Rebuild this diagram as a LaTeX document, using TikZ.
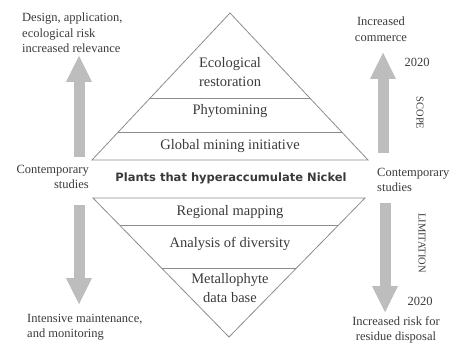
\documentclass[tikz,border=0pt]{standalone}
\usepackage{fontspec}
\setmainfont{Liberation Serif}
\newfontfamily\boldsans{DejaVu Sans}
\usetikzlibrary{arrows.meta}
\definecolor{txt}{HTML}{3A3A3A}
\definecolor{edge}{HTML}{8C8C8C}
\definecolor{arr}{HTML}{BDBDBD}
\tikzset{
  lab/.style={text=txt, inner sep=0pt, font=\rmfamily\fontsize{12.5}{15.5}\selectfont},
  pyr/.style={text=txt, inner sep=0pt, align=center, font=\rmfamily\fontsize{14.5}{19.5}\selectfont},
  side/.style={text=txt, inner sep=0pt, font=\rmfamily\fontsize{10.5}{12}\selectfont, rotate=-90},
  shape edge/.style={draw=edge, line width=0.8pt},
  bigarrow/.style={draw=arr, line width=11pt, -{Triangle[length=27pt,width=24pt]}},
}
\begin{document}
\begin{tikzpicture}[x=1pt,y=-1pt]
\useasboundingbox (0,0) rectangle (454,342);
% upper triangle
\coordinate (uA) at (230,13);
\coordinate (uL) at (92,160);
\coordinate (uR) at (368,160);
\draw[shape edge] (uL) -- (uA) -- (uR) -- cycle;
\coordinate (d1L) at (150,98);
\coordinate (d1R) at (310,98);
\coordinate (d2L) at (118,132);
\coordinate (d2R) at (342,132);
\draw[shape edge] (d1L) -- (d1R);
\draw[shape edge] (d2L) -- (d2R);
% lower triangle
\coordinate (lA) at (229,337);
\coordinate (lL) at (93,198);
\coordinate (lR) at (365,198);
\draw[shape edge] (lL) -- (lA) -- (lR) -- cycle;
\coordinate (d3L) at (120,225);
\coordinate (d3R) at (338,225);
\coordinate (d4L) at (162,268);
\coordinate (d4R) at (296,268);
\draw[shape edge] (d3L) -- (d3R);
\draw[shape edge] (d4L) -- (d4R);
% pyramid texts
\node[pyr] (eco) at (230,72) {Ecological\\restoration};
\node[pyr] (phy) at (230,111) {Phytomining};
\node[pyr] (glo) at (230,146) {Global mining initiative};
\node[text=txt, inner sep=0pt, font=\boldsans\bfseries\fontsize{11.5}{14}\selectfont] (mid) at (231,178) {Plants that hyperaccumulate Nickel};
\node[pyr] (reg) at (230,212) {Regional mapping};
\node[pyr] (ana) at (230,244) {Analysis of diversity};
\node[pyr] (met) at (230,288) {Metallophyte\\data base};
% arrows
\coordinate (ulB) at (79,157);
\coordinate (ulT) at (79,55);
\coordinate (llT) at (79,205);
\coordinate (llB) at (79,305);
\coordinate (urB) at (383,153);
\coordinate (urT) at (383,52);
\coordinate (lrT) at (385,203);
\coordinate (lrB) at (385,313);
\draw[bigarrow] (ulB) -- (ulT);
\draw[bigarrow] (llT) -- (llB);
\draw[bigarrow] (urB) -- (urT);
\draw[bigarrow] (lrT) -- (lrB);
% side texts
\node[lab, anchor=west, align=left] (design) at (22,33) {Design, application,\\ecological risk\\increased relevance};
\node[lab, anchor=east, align=right] (cl) at (89,177) {Contemporary\\studies};
\node[lab, anchor=west, align=left] (cr) at (377,180) {Contemporary\\studies};
\node[lab, align=center] (comm) at (381,29) {Increased\\commerce};
\node[lab] (y1) at (417,62) {2020};
\node[side] (scope) at (420,113) {SCOPE};
\node[side] (limit) at (422,243) {LIMITATION};
\node[lab] (y2) at (420,301) {2020};
\node[lab, align=center, font=\rmfamily\fontsize{12.5}{14.5}\selectfont] (risk) at (396,330) {Increased risk for\\residue disposal};
\node[lab, anchor=west, align=left] (maint) at (27,327) {Intensive maintenance,\\and monitoring};
\end{tikzpicture}
\end{document}
